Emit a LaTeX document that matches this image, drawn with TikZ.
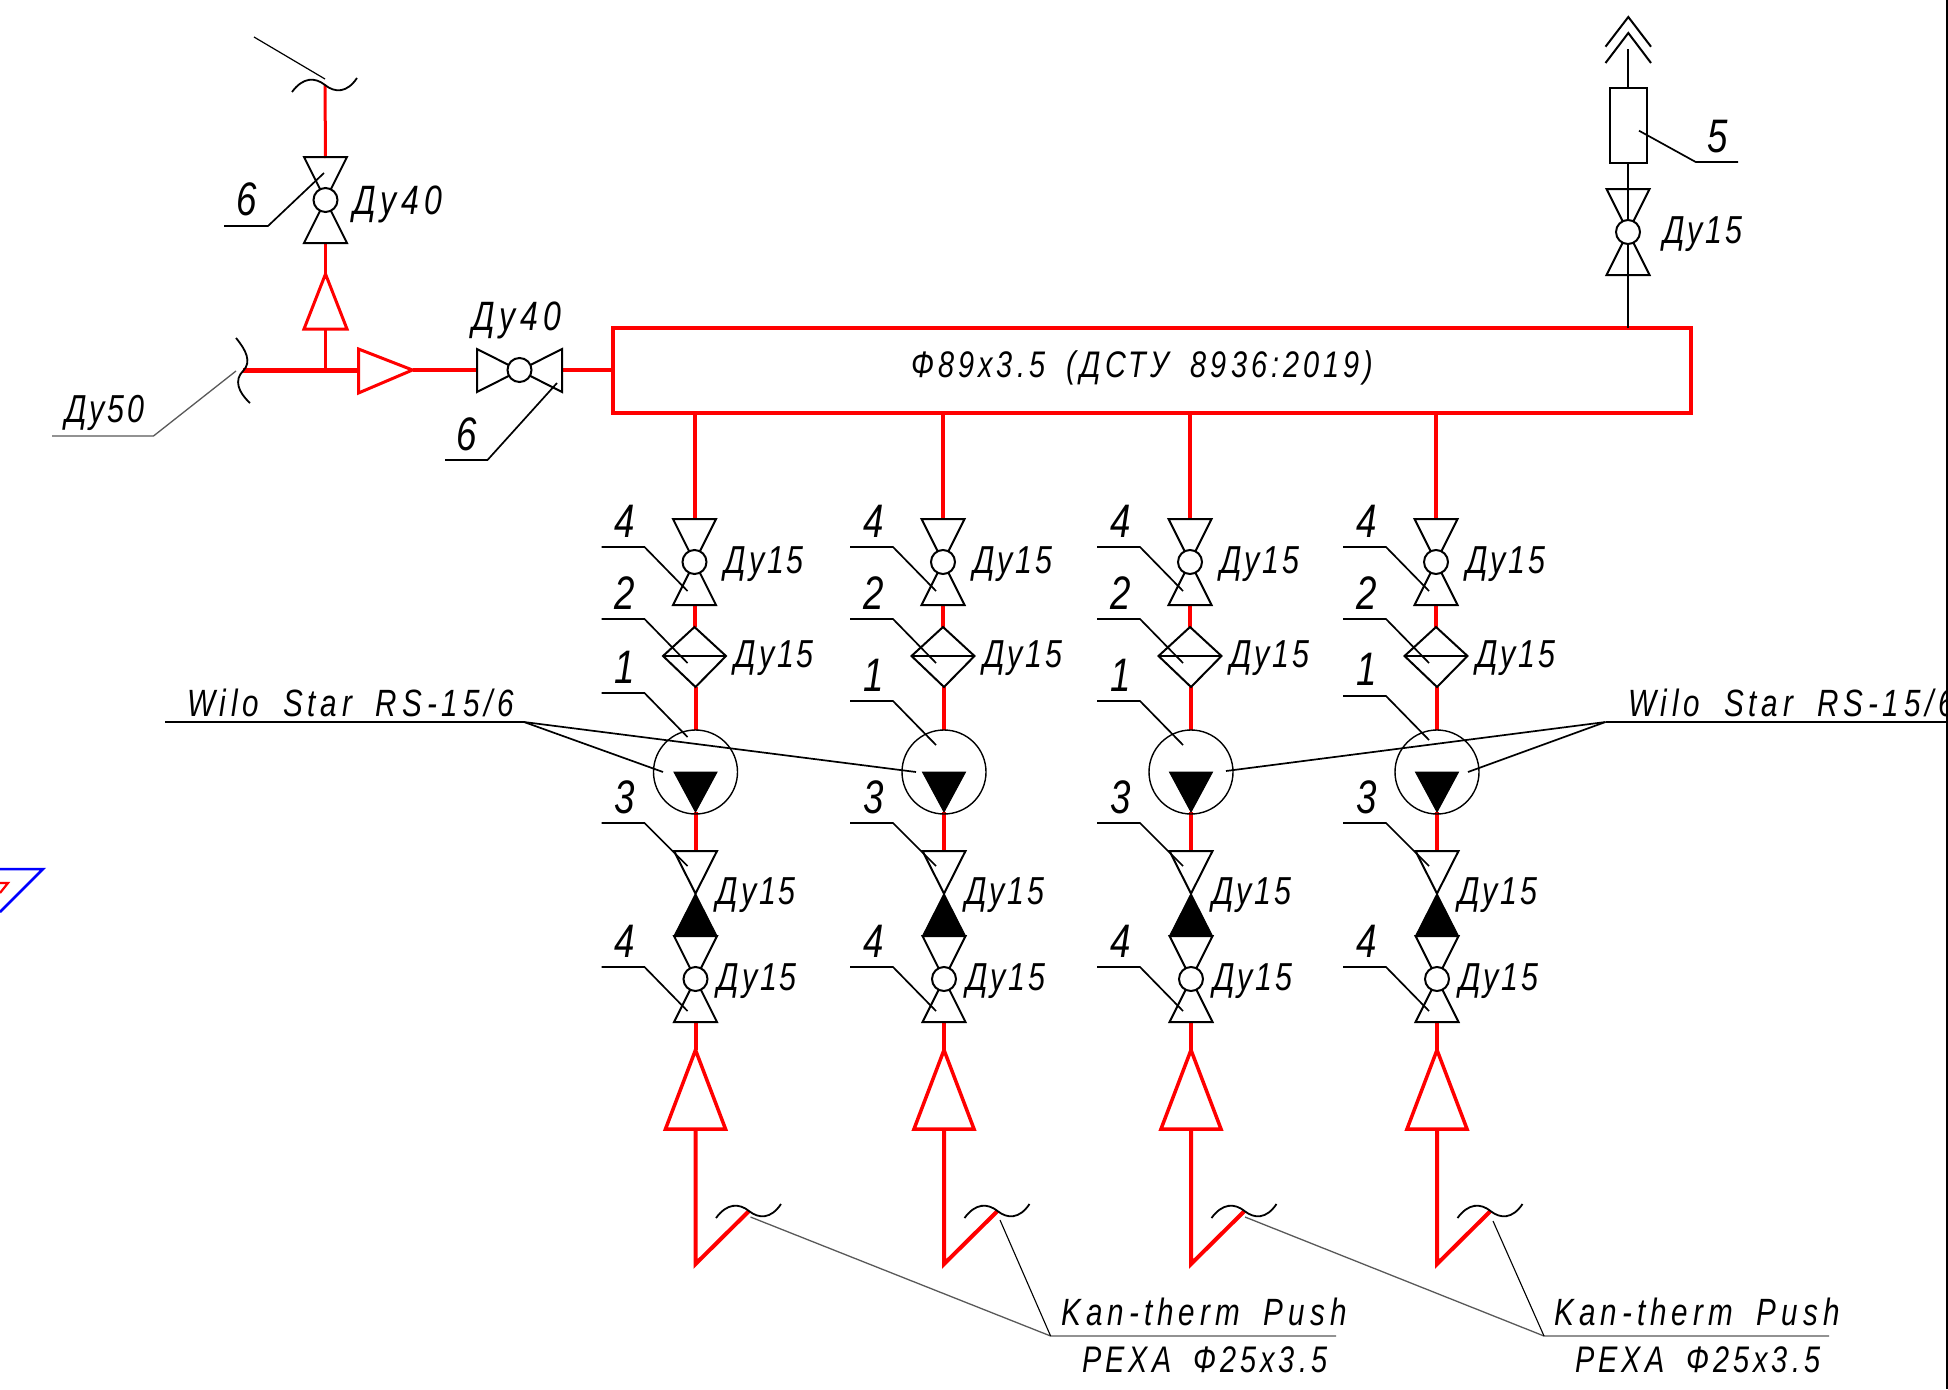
\documentclass[tikz,border=0pt]{standalone}
\usepackage{fontspec}
\newfontfamily\gost[FakeStretch=0.78,LetterSpace=7]{Liberation Sans}
\newfontfamily\gostm[FakeStretch=0.78,LetterSpace=11,WordSpace=1.8]{Liberation Sans}
\newfontfamily\gostk[FakeStretch=0.78,LetterSpace=13.3,WordSpace=1.8]{Liberation Sans}
\newfontfamily\gostw[FakeStretch=0.78,LetterSpace=13,WordSpace=1.8]{Liberation Sans}
\newfontfamily\gostd[FakeStretch=0.78,LetterSpace=12]{Liberation Sans}
\tikzset{
  x=1pt,y=-1pt,
  sym/.style={draw=black,line width=2pt,line join=miter},
  thinsym/.style={draw=black,line width=1.4pt},
  blk/.style={draw=black,fill=black,line width=1pt},
  pipe/.style={draw=red,line width=4pt},
  pipethin/.style={draw=red,line width=3pt},
  pipethick/.style={draw=red,line width=5pt},
  redsym/.style={draw=red,line width=3.5pt,line join=miter},
  lead/.style={draw=black,line width=1.7pt},
  greylead/.style={draw=black!65,line width=1.3pt},
  waveline/.style={draw=black,line width=1.8pt},
  numlab/.style={font=\gost\itshape\fontsize{47}{47}\selectfont,anchor=base west,inner sep=0pt},
  dulab/.style={font=\gost\itshape\fontsize{39}{39}\selectfont,anchor=base west,inner sep=0pt},
  dubig/.style={font=\gostd\itshape\fontsize{41}{41}\selectfont,anchor=base west,inner sep=0pt},
  notemid/.style={font=\gostm\itshape\fontsize{37}{37}\selectfont,anchor=base west,inner sep=0pt},
  notekan/.style={font=\gostk\itshape\fontsize{38}{38}\selectfont,anchor=base west,inner sep=0pt},
  notewilo/.style={font=\gostw\itshape\fontsize{38}{38}\selectfont,anchor=base west,inner sep=0pt},
  ballv/.pic={
    \draw[sym] (-21.5,-43) -- (21.5,-43) -- (-21.5,43) -- (21.5,43) -- cycle;
    \draw[sym,fill=white] (0,0) circle (12);
  },
  wavesym/.pic={
    \draw[waveline] (-33,7) .. controls (-22,-8) and (-10,-8) .. (0,0) .. controls (10,8) and (22,8) .. (32,-7);
  },
}
\begin{document}
\begin{tikzpicture}
\clip (0,0) rectangle (1948,1389);
\fill[white] (0,0) rectangle (1948,1389);

% --- manifold
\coordinate (mTL) at (613,328);
\coordinate (mBR) at (1691,412.5);
\draw[pipe] (mTL) rectangle (mBR);
\node[notemid] (mtext) at (911,377) {Ф89x3.5 (ДСТУ 8936:2019)};

% --- top-left branch
\coordinate (topW) at (325,85);
\coordinate (vTopL) at (325.5,200);
\coordinate (rTopTip) at (325.5,274);
\coordinate (rTopBase) at (325.5,329);
\coordinate (tee) at (325.5,370);
\coordinate (inlet) at (243,370);
\coordinate (rSideBase) at (358.5,370);
\coordinate (rSideTip) at (412.5,370);
\coordinate (vSide) at (519.5,370);
\draw[pipethin] (topW) -- (325.5,158);
\draw[pipethin] (325.5,243) -- (rTopTip);
\draw[pipethin] (rTopBase) -- (tee);
\draw[pipethick] (inlet) -- (rSideBase);
\draw[pipe] (rSideTip) -- (477,370);
\draw[pipe] (562,370) -- (mTL |- vSide);
\draw[redsym,line width=3pt] (rTopTip) -- (347,329) -- (304,329) -- cycle;
\draw[redsym,line width=3pt] (rSideTip) -- (358.5,393) -- (358.5,349) -- cycle;
\pic at (vTopL) {ballv};
\draw[sym] (477,349) -- (562,392) -- (562,349) -- (477,392) -- cycle;
\draw[sym,fill=white] (vSide) circle (12);
\pic at (topW) {wavesym};
\draw[waveline] (236,338) .. controls (246,350) and (252,362) .. (243,371) .. controls (234,380) and (238,392) .. (250,403);
\coordinate (topLeadEnd) at (254,37);
\draw[lead,line width=1.2pt] (topLeadEnd) -- (325,79);
\coordinate (l6a) at (224,226);
\draw[lead] (l6a) -- (268,226) -- (324,173);
\coordinate (l6b) at (445,460);
\draw[lead] (l6b) -- (487.5,460) -- (557,383);
\coordinate (l50) at (52,436);
\draw[greylead] (l50) -- (153.5,436) -- (236,371);
\node[numlab] (n6a) at (236,215) {6};
\node[numlab] (n6b) at (456,450) {6};
\node[dubig] (du40a) at (353,214) {Ду40};
\node[dubig] (du40b) at (472,330) {Ду40};
\node[dulab] (du50) at (65,422) {Ду50};

% --- air vent
\coordinate (ventBot) at (1628,328);
\coordinate (ventV) at (1628,232);
\coordinate (ventTop) at (1628,49);
\draw[sym] (ventBot) -- (ventV);
\draw[sym] (ventV) -- (1628,189);
\draw[sym,fill=white] (1610,88) rectangle (1647,163);
\draw[sym] (1628,163) -- (1628,189);
\draw[sym] (1628,88) -- (ventTop);
\pic at (ventV) {ballv};
\draw[sym] (1605.5,46.7) -- (1628.3,17) -- (1651,46.7);
\draw[sym] (1605.5,63) -- (1628.3,33) -- (1651,63);
\coordinate (l5) at (1738,162);
\draw[lead] (l5) -- (1695.7,162) -- (1639,130.7);
\node[numlab] (n5) at (1707,152) {5};
\node[dulab] (du15v) at (1663,243) {Ду15};

% --- four pump columns
\foreach \c/\xt/\xl/\dy/\dn in {1/694.5/695.5/0/683,2/943/944/8/691,3/1190/1191/8/691,4/1436/1437/3/685}{
  \coordinate (pt\c) at (\xt,412.5);
  \coordinate (vA\c) at (\xt,562);
  \coordinate (pmp\c) at (\xl,772);
  \coordinate (vB\c) at (\xl,979);
  \coordinate (apex\c) at (\xl,893.6);
  \coordinate (rTip\c) at (\xl,1050);
  \coordinate (rBase\c) at (\xl,1129);
  \coordinate (low\c) at (\xl,1264);
  \coordinate (wv\c) at (\xl+53.5,1211);
  % pipes
  \draw[pipe] (pt\c) -- (\xt,519);
  \draw[pipe] (\xt,605) -- (\xt,627);
  \draw[pipe] (\xl,687) -- (\xl,730);
  \draw[pipe] (\xl,812) -- (\xl,851);
  \draw[pipe] (\xl,1022) -- (rTip\c);
  \draw[pipe,line join=miter] (rBase\c) -- (low\c) -- (wv\c);
  \draw[redsym] (rTip\c) -- (\xl+30,1129) -- (\xl-30,1129) -- cycle;
  % symbols
  \pic at (vA\c) {ballv};
  \draw[sym] (\xt,627) -- (\xt+31.5,656) -- (\xl,687) -- (\xt-31.5,656) -- cycle;
  \draw[sym,line width=1.6pt] (\xt-31.5,656) -- (\xt+31.5,656);
  \draw[thinsym] (pmp\c) circle (42);
  \draw[blk] (\xl-21.5,772) -- (\xl+21.5,772) -- (\xl,812) -- cycle;
  \draw[sym] (\xl-21.5,851) -- (\xl+21.5,851) -- (apex\c) -- cycle;
  \draw[blk] (apex\c) -- (\xl+21.5,936) -- (\xl-21.5,936) -- cycle;
  \pic at (vB\c) {ballv};
  \pic at (wv\c) {wavesym};
  % leaders
  \coordinate (la\c) at (\xt-93,547);
  \coordinate (lb\c) at (\xt-93,619);
  \coordinate (lc\c) at (\xt-93,693+\dy);
  \coordinate (ld\c) at (\xt-93,823);
  \coordinate (le\c) at (\xt-93,967);
  \draw[lead] (la\c) -- (\xt-50,547) -- (\xt-7,591);
  \draw[lead] (lb\c) -- (\xt-50,619) -- (\xt-7,663);
  \draw[lead] (lc\c) -- (\xt-50,693+\dy) -- (\xt-7,737+\dy);
  \draw[lead] (ld\c) -- (\xt-50,823) -- (\xt-7,866);
  \draw[lead] (le\c) -- (\xt-50,967) -- (\xt-7,1011);
  % labels
  \node[numlab] (na\c) at (\xt-80,537) {4};
  \node[numlab] (nb\c) at (\xt-80,609) {2};
  \node[numlab] (nc\c) at (\xt-80,\dn) {1};
  \node[numlab] (nd\c) at (\xt-80,813) {3};
  \node[numlab] (ne\c) at (\xt-80,957) {4};
  \node[dulab] (da\c) at (\xt+30,573) {Ду15};
  \node[dulab] (db\c) at (\xt+40,667) {Ду15};
  \node[dulab] (dc\c) at (\xt+22,904) {Ду15};
  \node[dulab] (dd\c) at (\xt+23,990.5) {Ду15};
}

% --- pump notes
\coordinate (wl) at (165,722);
\coordinate (wlk) at (524,722);
\coordinate (wr) at (1948,722);
\coordinate (wrk) at (1605.5,722);
\draw[lead] (wl) -- (wlk);
\draw[lead] (wlk) -- (663,772);
\draw[lead] (wlk) -- (916,772);
\draw[lead] (wr) -- (wrk);
\draw[lead] (wrk) -- (1226,771);
\draw[lead] (wrk) -- (1468,772);
\node[notewilo] (wilo1) at (187,716) {Wilo Star RS-15/6};
\node[notewilo] (wilo2) at (1628,716) {Wilo Star RS-15/6};

% --- pipe notes
\coordinate (k1) at (1050.6,1336);
\coordinate (k1e) at (1336,1336);
\coordinate (k2) at (1544,1336);
\coordinate (k2e) at (1829,1336);
\draw[greylead] (k1e) -- (k1) -- (750.5,1217);
\draw[lead,line width=1.1pt] (k1) -- (1000,1220);
\draw[greylead] (k2e) -- (k2) -- (1245,1217);
\draw[lead,line width=1.1pt] (k2) -- (1493,1221);
\node[notekan] (kt1) at (1061,1325) {Kan-therm Push};
\node[notemid] (px1) at (1082,1372) {PEXA Ф25x3.5};
\node[notekan] (kt2) at (1554,1325) {Kan-therm Push};
\node[notemid] (px2) at (1575,1372) {PEXA Ф25x3.5};

% --- cut-off symbol at the left edge
\coordinate (bl) at (43,869);
\draw[draw=blue,line width=2.5pt] (0,869) -- (bl) -- (0,912);
\draw[draw=red,line width=2.2pt] (0,883) -- (8,883) -- (0,893);

% --- dark strip along the right edge
\fill[black] (1945.5,0) rectangle (1948,1389);
\end{tikzpicture}
\end{document}
